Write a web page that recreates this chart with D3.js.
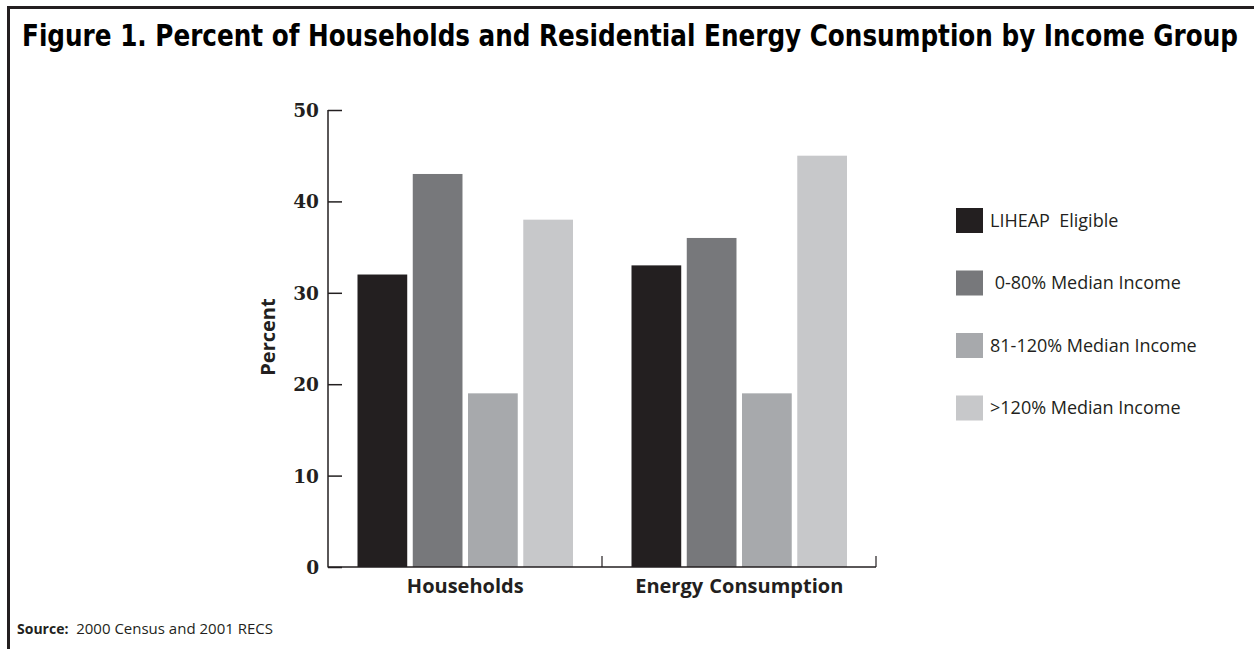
<!DOCTYPE html>
<html><head><meta charset="utf-8">
<script src="https://cdn.jsdelivr.net/npm/d3@7"></script>
<style>html,body{margin:0;padding:0;background:#fff;}svg{display:block;} text{font-variant-ligatures:none;}</style>
</head><body>
<script>
const groups = ["Households", "Energy Consumption"];
const series = ["LIHEAP  Eligible", " 0-80% Median Income", "81-120% Median Income", ">120% Median Income"];
const householdsValues = [32, 43, 19, 38];
const energyValues = [33, 36, 19, 45];
const yTicks = [0, 10, 20, 30, 40, 50];
const colors = ["#231f20", "#77787b", "#a7a9ac", "#c7c8ca"];

const W = 1254, H = 649;
const svg = d3.select("body").append("svg").attr("width", W).attr("height", H);

// frame
svg.append("line").attr("x1", 7).attr("x2", W).attr("y1", 7.5).attr("y2", 7.5).attr("stroke", "#231f20").attr("stroke-width", 3);
svg.append("line").attr("x1", 8.5).attr("x2", 8.5).attr("y1", 6).attr("y2", H).attr("stroke", "#231f20").attr("stroke-width", 3);

// title: fit natural width to ~1216px, then stretch vertically
const titleG = svg.append("g").attr("transform", "translate(630,46)");
const title = titleG.append("text").attr("x", 0).attr("y", 0).attr("text-anchor", "middle")
  .attr("font-family", "'Liberation Sans Narrow', 'DejaVu Sans Condensed', sans-serif").attr("font-weight", "bold").attr("font-size", 30)
  .attr("fill", "#000")
  .text("Figure 1. Percent of Households and Residential Energy Consumption by Income Group");
const natural = title.node().getComputedTextLength();
const fs = Math.min(31, 30 * 1216 / natural);
title.attr("font-size", fs);
const sy = Math.max(1, 30 / fs);
titleG.attr("transform", `translate(630,46) scale(1,${sy})`);

const data = groups.map((g, i) => ({group: g, values: i === 0 ? householdsValues : energyValues}));

const x0 = d3.scaleBand().domain(groups).range([328, 876]).padding(0);
const x1 = d3.scaleBand().domain(series).range([29.5, 245]).paddingInner(0.1).paddingOuter(0);
const y = d3.scaleLinear().domain([0, 50]).range([567, 110]);

// bars
const g = svg.append("g");
data.forEach(d => {
  g.selectAll(null).data(d.values).enter().append("rect")
    .attr("x", (v, i) => x0(d.group) + x1(series[i]))
    .attr("width", x1.bandwidth())
    .attr("y", v => y(v))
    .attr("height", v => y(0) - y(v))
    .attr("fill", (v, i) => colors[i]);
});

// y axis
const yAxis = d3.axisRight(y).tickValues(yTicks).tickSize(14).tickFormat("");
const ya = svg.append("g").attr("transform", "translate(328,0)").call(yAxis);
ya.select(".domain").remove();
ya.selectAll(".tick line").attr("stroke", "#231f20").attr("stroke-width", 1.5);
svg.append("line").attr("x1", 328).attr("x2", 328).attr("y1", 110).attr("y2", 567.5).attr("stroke", "#231f20").attr("stroke-width", 1.5);
svg.selectAll(".ylab").data(yTicks).enter().append("text")
  .attr("x", 319).attr("y", v => y(v) + 7).attr("text-anchor", "end")
  .attr("font-family", "'DejaVu Serif', serif").attr("font-weight", "bold").attr("font-size", 18.5)
  .attr("fill", "#231f20").text(v => v);

svg.append("text").attr("transform", "translate(275,337) rotate(-90)").attr("text-anchor", "middle")
  .attr("font-family", "'Open Sans', sans-serif").attr("font-weight", "bold").attr("font-size", 20)
  .attr("fill", "#231f20").text("Percent");

// x axis
svg.append("line").attr("x1", 328).attr("x2", 876).attr("y1", 567).attr("y2", 567).attr("stroke", "#231f20").attr("stroke-width", 1.5);
const xTickPos = groups.map(gr => x0(gr) + x0.bandwidth());
svg.selectAll(".xt").data(xTickPos).enter().append("line")
  .attr("x1", d => d).attr("x2", d => d).attr("y1", 567).attr("y2", 556)
  .attr("stroke", "#231f20").attr("stroke-width", 1.2);
svg.selectAll(".xlab").data(groups).enter().append("text")
  .attr("x", gr => x0(gr) + x1.range()[0] + (x1.range()[1] - x1.range()[0]) / 2)
  .attr("y", 593).attr("text-anchor", "middle")
  .attr("font-family", "'Open Sans', sans-serif").attr("font-weight", "bold").attr("font-size", 20)
  .attr("word-spacing", 1).attr("fill", "#231f20").text(gr => gr);

// legend
const lg = svg.append("g");
series.forEach((s, i) => {
  const cy = 220.5 + i * 62.5;
  lg.append("rect").attr("x", 956).attr("y", cy - 12.5).attr("width", 27).attr("height", 25).attr("fill", colors[i]);
  lg.append("text").attr("x", 990).attr("y", cy + 6).style("white-space", "pre")
    .attr("font-family", "'Open Sans', sans-serif").attr("font-size", 18).attr("fill", "#231f20").text(s);
});

// source
const src = svg.append("text").attr("x", 17).attr("y", 634).attr("font-family", "'Open Sans', sans-serif").attr("font-size", 15).attr("fill", "#231f20");
src.append("tspan").attr("font-weight", "bold").attr("font-size", 14).text("Source:");
src.append("tspan").text("  2000 Census and 2001 RECS").style("white-space", "pre");
</script>
</body></html>
